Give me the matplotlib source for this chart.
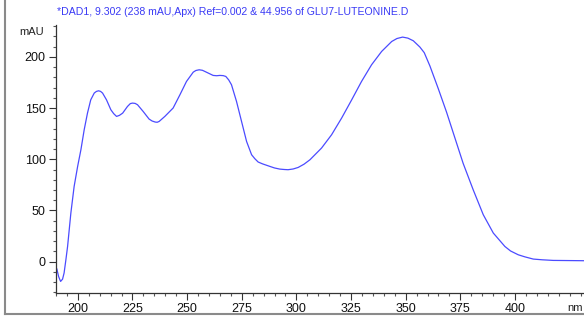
import matplotlib.pyplot as plt
from matplotlib.lines import Line2D
from matplotlib.ticker import MultipleLocator

plt.rcParams['font.family'] = ['Liberation Sans', 'DejaVu Sans']

# UV spectrum at the apex of the peak (wavelength in nm, absorbance in mAU)
wavelength = [190.4, 191.2, 192.1, 193.0, 193.7, 194.5, 195.3, 196.8, 198.3, 199.9,
              201.4, 202.9, 204.4, 205.9, 207.5, 208.5, 209.5, 210.4, 211.3, 213.1,
              215.1, 216.4, 217.7, 219.0, 220.5, 222.7, 224.0, 225.0, 226.2, 227.3,
              229.9, 232.6, 234.0, 235.4, 236.3, 237.2, 239.8, 243.6, 246.7, 249.7,
              252.8, 254.0, 255.5, 257.0, 258.1, 261.9, 263.5, 265.0, 266.5, 267.7,
              269.0, 270.3, 272.6, 274.9, 277.2, 279.5, 281.0, 282.5, 284.5, 287.9,
              290.0, 292.4, 294.5, 296.2, 298.5, 300.8, 303.5, 306.2, 311.5, 316.1,
              320.7, 325.3, 329.8, 334.4, 339.0, 343.6, 346.0, 348.6, 351.0, 353.5,
              356.5, 358.5, 361.1, 364.9, 368.7, 372.5, 376.3, 380.9, 385.5, 390.1,
              395.4, 398.0, 401.5, 404.5, 408.4, 412.5, 417.5, 431.5]
absorbance = [-7.1, -14.5, -19.2, -17.0, -11.0, 1.5, 14.9, 47.5, 73.5, 93.0,
              109.3, 128.8, 145.0, 158.0, 164.6, 166.2, 166.8, 166.2, 164.6, 158.0,
              148.3, 144.5, 141.8, 142.8, 145.0, 151.5, 154.3, 154.8, 154.5, 153.2,
              146.6, 139.2, 137.3, 136.3, 136.1, 136.9, 141.8, 150.0, 162.9, 175.9,
              185.0, 186.6, 187.3, 186.8, 185.7, 181.8, 181.5, 181.8, 181.6, 180.8,
              177.5, 172.7, 156.4, 136.9, 117.4, 104.4, 100.5, 97.3, 95.5, 93.0,
              91.5, 90.4, 90.0, 89.8, 90.5, 92.0, 95.2, 99.5, 110.9, 123.9,
              140.2, 158.0, 175.9, 192.2, 205.2, 214.9, 217.8, 219.2, 218.2, 215.6,
              209.5, 204.0, 191.0, 169.0, 146.0, 121.0, 96.0, 70.2, 45.9, 28.0,
              14.9, 10.5, 6.8, 4.8, 2.6, 1.9, 1.3, 1.0]

title = "*DAD1, 9.302 (238 mAU,Apx) Ref=0.002 & 44.956 of GLU7-LUTEONINE.D"
xticks = [200, 225, 250, 275, 300, 325, 350, 375, 400]
yticks = [0, 50, 100, 150, 200]

fig = plt.figure(figsize=(5.84, 3.2), dpi=100)
ax = fig.add_axes([56 / 584, 27 / 320, 1 - 56 / 584, 268 / 320])

ax.plot(wavelength, absorbance, color='#4b4bff', lw=0.9)

ax.set_xlim(190, 431.6)
ax.set_ylim(-30.5, 231)
ax.set_xticks(xticks)
ax.set_yticks(yticks)
ax.xaxis.set_minor_locator(MultipleLocator(5))
ax.yaxis.set_minor_locator(MultipleLocator(10))

for side in ('top', 'right'):
    ax.spines[side].set_visible(False)
for side in ('left', 'bottom'):
    ax.spines[side].set_color('#333333')
    ax.spines[side].set_linewidth(0.9)

ax.tick_params(which='major', length=5, width=0.8, color='#333333',
               labelsize=9, labelcolor='#111111', pad=2.5)
ax.tick_params(which='minor', length=2.5, width=0.8, color='#555555')

# axis unit labels sit at the ends of the axes
ax.text(-0.023, 224, 'mAU', transform=ax.get_yaxis_transform(),
        ha='right', va='center', fontsize=8, color='#222222')
ax.text(427.5, -0.037, 'nm', transform=ax.get_xaxis_transform(),
        ha='center', va='top', fontsize=8, color='#222222')

fig.text(57 / 584, 1 - 12 / 320, title, ha='left', va='center',
         fontsize=7.6, color='#3a3af5')

# window frame on left and bottom
fig.add_artist(Line2D([5 / 584, 5 / 584], [6 / 320, 1], transform=fig.transFigure,
                      color='#8a8a8a', lw=1.5))
fig.add_artist(Line2D([5 / 584, 1], [6 / 320, 6 / 320], transform=fig.transFigure,
                      color='#8a8a8a', lw=1.5))

fig.savefig('out.png', dpi=100)
